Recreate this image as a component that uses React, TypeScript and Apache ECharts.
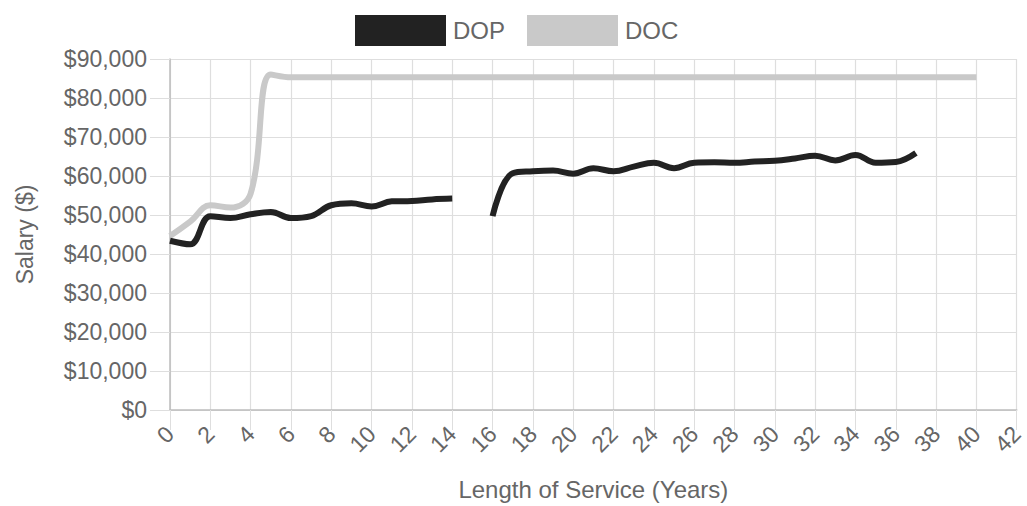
import React, { useEffect, useRef } from "react";
import * as echarts from "echarts";

const dopYears = [0,1,2,3,4,5,6,7,8,9,10,11,12,13,14,15,16,17,18,19,20,21,22,23,24,25,26,27,28,29,30,31,32,33,34,35,36,37];
const dopValues: (number | null)[] = [43400,42500,49700,49200,50200,50800,49200,49700,52500,53000,52200,53500,53600,54000,54200,null,49700,60700,61200,61400,60600,62000,61200,62400,63400,62000,63400,63500,63400,63700,63900,64500,65200,64000,65400,63400,63600,65900];

const docYears = [0,1,2,3,4,5,6,7,8,9,10,11,12,13,14,15,16,17,18,19,20,21,22,23,24,25,26,27,28,29,30,31,32,33,34,35,36,37,38,39,40];
const docValues = [44600,48300,52500,51900,55500,86000,85300,85300,85300,85300,85300,85300,85300,85300,85300,85300,85300,85300,85300,85300,85300,85300,85300,85300,85300,85300,85300,85300,85300,85300,85300,85300,85300,85300,85300,85300,85300,85300,85300,85300,85300];

const seriesNames = ["DOP", "DOC"];
const xTitle = "Length of Service (Years)";
const yTitle = "Salary ($)";

const FONT = "'Liberation Sans', Arial, Helvetica, sans-serif";

export default function App() {
  const ref = useRef<HTMLDivElement>(null);
  useEffect(() => {
    if (!ref.current) return;
    const chart = echarts.init(ref.current, null, { renderer: "svg" });
    chart.setOption({
      animation: false,
      textStyle: { fontFamily: FONT },
      legend: {
        data: seriesNames,
        top: 10,
        left: 350,
        icon: "rect",
        itemWidth: 91,
        itemHeight: 31,
        itemGap: 22,
        textStyle: { fontSize: 24, color: "#666", fontFamily: FONT, padding: [0, 0, 0, 2] },
      },
      grid: { left: 170, right: 4, top: 59, bottom: 92, containLabel: false },
      xAxis: {
        type: "value",
        min: 0,
        max: 42,
        interval: 2,
        name: xTitle,
        nameLocation: "middle",
        nameGap: 67,
        nameTextStyle: { fontSize: 24, color: "#666", fontFamily: FONT },
        axisLine: { show: true, lineStyle: { color: "#bdbdbd", width: 1.5 } },
        axisTick: { show: true, length: 20, lineStyle: { color: "#dedede" } },
        axisLabel: { rotate: 45, margin: 20, fontSize: 23, color: "#666", fontFamily: FONT },
        splitLine: { show: true, lineStyle: { color: "#dedede", width: 1.2 } },
      },
      yAxis: {
        type: "value",
        min: 0,
        max: 90000,
        interval: 10000,
        name: yTitle,
        nameLocation: "middle",
        nameRotate: 90,
        nameGap: 134,
        nameTextStyle: { fontSize: 23, color: "#666", fontFamily: FONT },
        axisLine: { show: true, lineStyle: { color: "#bdbdbd", width: 1.5 } },
        axisTick: { show: true, length: 20, lineStyle: { color: "#dedede" } },
        axisLabel: {
          margin: 23,
          fontSize: 23,
          color: "#666",
          fontFamily: FONT,
          formatter: (v: number) => "$" + v.toLocaleString("en-US"),
        },
        splitLine: { show: true, lineStyle: { color: "#dedede", width: 1.2 } },
      },
      series: [
        {
          name: "DOP",
          type: "line",
          z: 3,
          smooth: 0.4,
          showSymbol: false,
          connectNulls: false,
          color: "#222222",
          lineStyle: { width: 6, color: "#222222" },
          data: dopYears.map((x, i) => [x, dopValues[i] === null ? "-" : dopValues[i]]),
        },
        {
          name: "DOC",
          type: "line",
          z: 2,
          smooth: 0.4,
          showSymbol: false,
          color: "#c9c9c9",
          lineStyle: { width: 6, color: "#c9c9c9" },
          data: docYears.map((x, i) => [x, docValues[i]]),
        },
      ],
    });
    return () => chart.dispose();
  }, []);
  return <div ref={ref} style={{ width: 1027, height: 506, position: "absolute", left: 0, top: 0 }} />;
}
